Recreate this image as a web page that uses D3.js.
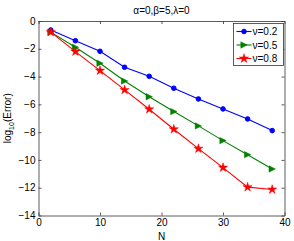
<!DOCTYPE html>
<html>
<head>
<meta charset="utf-8">
<script src="https://cdn.jsdelivr.net/npm/d3@7"></script>
<style>
  body { margin: 0; background: #fff; }
  svg text { font-family: "Liberation Sans", Arial, sans-serif; }
</style>
</head>
<body>
<div id="main"></div>
<script>
// DATA
const N = [2, 6, 10, 14, 18, 22, 26, 30, 34, 38]
const nu02 = [-0.65, -1.42, -2.18, -3.33, -3.98, -4.84, -5.61, -6.33, -7.05, -7.89]
const nu05 = [-0.80, -1.89, -3.04, -4.32, -5.45, -6.52, -7.55, -8.61, -9.62, -10.65]
const nu08 = [-0.80, -2.20, -3.57, -4.96, -6.35, -7.79, -9.19, -10.55, -11.96, -12.13]
const series_names = ["v=0.2", "v=0.5", "v=0.8"]
const x_ticks = [0, 10, 20, 30, 40]
const y_ticks = [0, -2, -4, -6, -8, -10, -12, -14]

// SETUP
const width = 294, height = 241
const m = {left: 38.5, right: 9.5, top: 21, bottom: 25.5}
const colors = ["#0000ff", "#008000", "#ff0000"]
const shapes = ["circle", "triangle", "star"]
const FS = 10
const AX = "#333"

const x = d3.scaleLinear().domain([0, 40]).range([m.left, width - m.right])
const y = d3.scaleLinear().domain([-14, 0]).range([height - m.bottom, m.top])

const svg = d3.select("#main").append("svg")
    .attr("width", width)
    .attr("height", height)

// AXES
const tl = 3
const gx = svg.append("g").attr("transform", `translate(0,${y(-14)})`)
    .call(d3.axisBottom(x).tickValues(x_ticks).tickSizeInner(-tl).tickSizeOuter(0).tickPadding(3))
const gxt = svg.append("g").attr("transform", `translate(0,${y(0)})`)
    .call(d3.axisTop(x).tickValues(x_ticks).tickSizeInner(-tl).tickSizeOuter(0).tickFormat(""))
const gy = svg.append("g").attr("transform", `translate(${x(0)},0)`)
    .call(d3.axisLeft(y).tickValues(y_ticks).tickSizeInner(-tl).tickSizeOuter(0).tickPadding(3)
        .tickFormat(d => d < 0 ? "\u2212" + Math.abs(d) : d))
const gyr = svg.append("g").attr("transform", `translate(${x(40)},0)`)
    .call(d3.axisRight(y).tickValues(y_ticks).tickSizeInner(-tl).tickSizeOuter(0).tickFormat(""))

;[gx, gxt, gy, gyr].forEach(g => {
    g.select(".domain").attr("stroke", AX).attr("stroke-width", 0.8)
    g.selectAll(".tick line").attr("stroke", AX).attr("stroke-width", 0.8)
    g.selectAll("text").attr("font-size", FS).attr("fill", "#000").style("font-family", "Liberation Sans, Arial, sans-serif")
})

// LABELS
svg.append("text")
    .attr("x", (x(0) + x(40)) / 2).attr("y", 14)
    .attr("text-anchor", "middle").attr("font-size", FS)
    .text("\u03b1=0,\u03b2=5,\u03bb=0")

svg.append("text")
    .attr("x", (x(0) + x(40)) / 2).attr("y", 240)
    .attr("text-anchor", "middle").attr("font-size", FS)
    .text("N")

const yl = svg.append("text")
    .attr("transform", `translate(11,${(y(0) + y(-14)) / 2}) rotate(-90)`)
    .attr("text-anchor", "middle").attr("font-size", FS)
yl.append("tspan").text("log")
yl.append("tspan").attr("font-size", 7).attr("dy", 2.5).text("10")
yl.append("tspan").attr("dy", -2.5).text("(Error)")

// LINES
const line = d3.line().x(d => x(d[0])).y(d => y(d[1]))
const all_series = [nu02, nu05, nu08]

function marker(g, shape, color, cx, cy){
    if (shape === "circle"){
        g.append("circle").attr("cx", cx).attr("cy", cy).attr("r", 2.3)
            .attr("fill", color).attr("stroke", color)
    } else if (shape === "triangle"){
        const s = 3.2
        g.append("path")
            .attr("d", `M${cx + s},${cy} L${cx - s},${cy - s} L${cx - s},${cy + s} Z`)
            .attr("fill", color).attr("stroke", color).attr("stroke-width", 0.5)
    } else {
        g.append("path")
            .attr("d", d3.symbol().type(d3.symbolStar).size(26)())
            .attr("transform", `translate(${cx},${cy})`)
            .attr("fill", color).attr("stroke", color).attr("stroke-width", 0.5)
    }
}

all_series.forEach((vals, i) => {
    const pts = N.map((n, j) => [n, vals[j]])
    svg.append("path").datum(pts)
        .attr("d", line)
        .attr("fill", "none")
        .attr("stroke", colors[i])
        .attr("stroke-width", 1.1)
    const g = svg.append("g")
    pts.forEach(p => marker(g, shapes[i], colors[i], x(p[0]), y(p[1])))
})

// LEGEND
const lx = 233.5, ly = 23.5, lw = 50, lh = 42
const lg = svg.append("g")
lg.append("rect").attr("x", lx).attr("y", ly).attr("width", lw).attr("height", lh)
    .attr("fill", "#fff").attr("stroke", AX).attr("stroke-width", 0.8)
series_names.forEach((name, i) => {
    const cy = ly + 8 + i * 13.5
    lg.append("line").attr("x1", lx + 3).attr("x2", lx + 18).attr("y1", cy).attr("y2", cy)
        .attr("stroke", colors[i]).attr("stroke-width", 1.1)
    marker(lg, shapes[i], colors[i], lx + 10.5, cy)
    lg.append("text").attr("x", lx + 19).attr("y", cy + 3.6).attr("font-size", FS)
        .text(name.replace("v", "\u03bd"))
})
</script>
</body>
</html>
